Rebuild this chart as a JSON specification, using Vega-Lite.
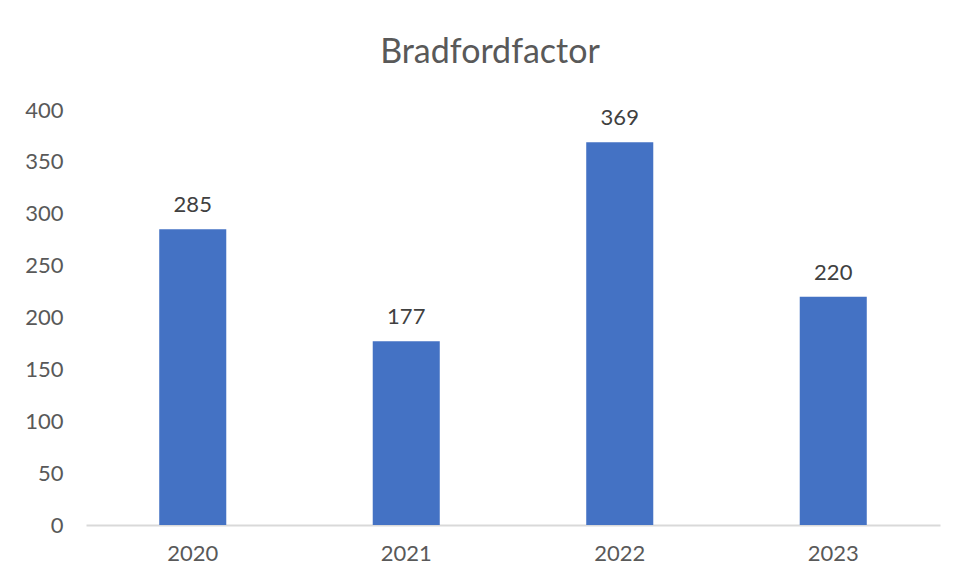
{
  "$schema": "https://vega.github.io/schema/vega-lite/v6.json",
  "autosize": {"type": "none"},
  "width": 854,
  "height": 415,
  "padding": {"left": 86, "top": 110, "right": 16, "bottom": 53},
  "background": "white",
  "title": {
    "text": "Bradfordfactor",
    "font": "Lato",
    "fontSize": 34,
    "fontWeight": "normal",
    "color": "#595959",
    "anchor": "middle",
    "dx": -23,
    "offset": 29
  },
  "config": {"view": {"stroke": null}},
  "data": {
    "values": [
      {"year": "2020", "value": 285},
      {"year": "2021", "value": 177},
      {"year": "2022", "value": 369},
      {"year": "2023", "value": 220}
    ]
  },
  "encoding": {
    "x": {
      "field": "year",
      "type": "nominal",
      "sort": null,
      "scale": {"paddingInner": 0.686, "paddingOuter": 0.343},
      "axis": {
        "title": null,
        "labelAngle": 0,
        "labelFont": "Lato",
        "labelFontSize": 22,
        "labelColor": "#595959",
        "labelPadding": 18,
        "ticks": false,
        "domainColor": "#d9d9d9",
        "domainWidth": 2
      }
    },
    "y": {
      "field": "value",
      "type": "quantitative",
      "scale": {"domain": [0, 400], "nice": false},
      "axis": {
        "title": null,
        "values": [0, 50, 100, 150, 200, 250, 300, 350, 400],
        "grid": false,
        "domain": false,
        "ticks": false,
        "labelFont": "Lato",
        "labelFontSize": 22,
        "labelColor": "#595959",
        "labelPadding": 23
      }
    }
  },
  "layer": [
    {"mark": {"type": "bar", "color": "#4472C4"}},
    {
      "mark": {
        "type": "text",
        "baseline": "bottom",
        "dy": -12,
        "font": "Lato",
        "fontSize": 22,
        "color": "#404040"
      },
      "encoding": {"text": {"field": "value", "type": "quantitative"}}
    }
  ]
}
